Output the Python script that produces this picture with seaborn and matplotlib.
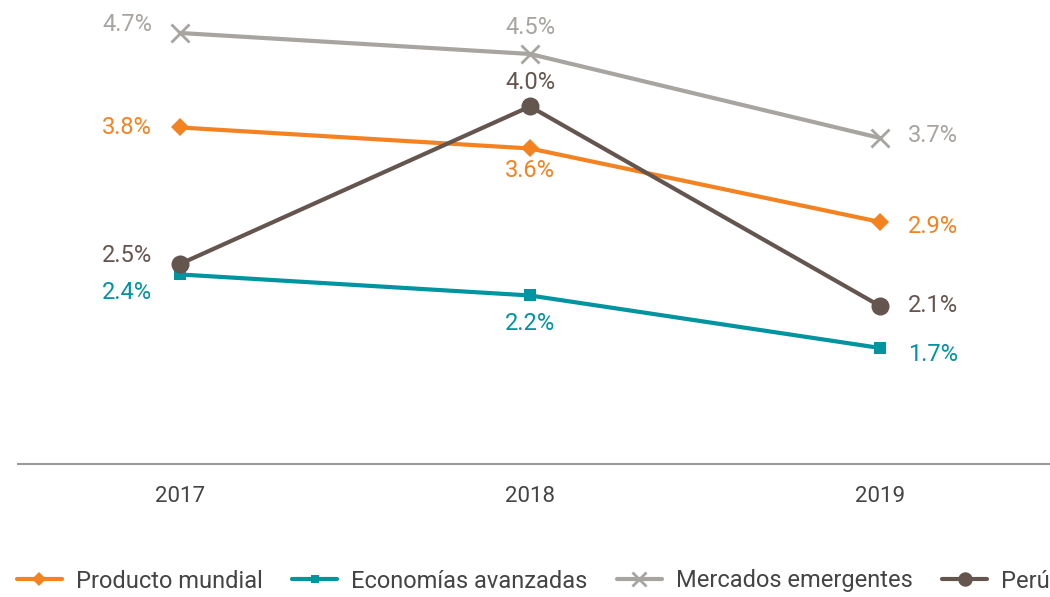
import matplotlib
matplotlib.use("Agg")
import matplotlib.pyplot as plt
import seaborn as sns
import pandas as pd

years = ["2017", "2018", "2019"]
series_names = ["Producto mundial", "Economías avanzadas", "Mercados emergentes", "Perú"]
producto = [3.8, 3.6, 2.9]
economias = [2.4, 2.2, 1.7]
mercados = [4.7, 4.5, 3.7]
peru = [2.5, 4.0, 2.1]

colors = ["#F58220", "#0093A0", "#A8A4A0", "#65554F"]
markers = ["D", "s", "x", "o"]
msizes = [9, 8, 13, 13]

sns.set_theme(style="white")
plt.rcParams['font.family'] = ['Roboto', 'DejaVu Sans']

fig = plt.figure(figsize=(10.5, 5.97), dpi=100)
ax = fig.add_axes([18/1050, 1-464/597, 1-18/1050, 464/597])

values = [producto, economias, mercados, peru]
for name, vals, c, m, ms in zip(series_names, values, colors, markers, msizes):
    df = pd.DataFrame({"x": range(len(years)), "y": vals})
    sns.lineplot(data=df, x="x", y="y", ax=ax, color=c, marker=m, markersize=ms,
                 linewidth=3, label=name, markeredgewidth=2 if m == "x" else 0,
                 markeredgecolor=c)

# label placement: (dx points, dy points, ha) per series per year
offsets = {
    "Producto mundial": [(-20, 0, "right"), (0, -16, "center"), (20, -3, "left")],
    "Economías avanzadas": [(-20, -13, "right"), (0, -20, "center"), (20, -5, "left")],
    "Mercados emergentes": [(-20, 6, "right"), (0, 19, "center"), (20, 2, "left")],
    "Perú": [(-20, 6, "right"), (0, 17, "center"), (20, 0, "left")],
}
for name, vals, c in zip(series_names, values, colors):
    for i, v in enumerate(vals):
        dx, dy, ha = offsets[name][i]
        ax.annotate(f"{v:.1f}%", (i, v), xytext=(dx, dy), textcoords="offset points",
                    ha=ha, va="center", color=c, fontsize=17)

ax.set_xlim(-162/350, 870/350)
ax.set_ylim(0.595, 5.014)
ax.set_xticks(range(len(years)))
ax.set_xticklabels(years, fontsize=16, color="#444444")
ax.set_yticks([])
ax.set_xlabel("")
ax.set_ylabel("")
for s in ["top", "right", "left"]:
    ax.spines[s].set_visible(False)
ax.spines["bottom"].set_color("#999999")
ax.spines["bottom"].set_linewidth(1.5)
ax.tick_params(axis="x", length=0, pad=16)

ax.legend_.remove()
handles, labels = ax.get_legend_handles_labels()
fig.legend(handles, labels, loc="center", bbox_to_anchor=(0.508, 1-581/597), ncol=4,
           frameon=False, fontsize=17, labelcolor="#444444", handlelength=1.9,
           columnspacing=1.25, handletextpad=0.6, markerscale=0.8)

fig.savefig("out.png", dpi=100)
